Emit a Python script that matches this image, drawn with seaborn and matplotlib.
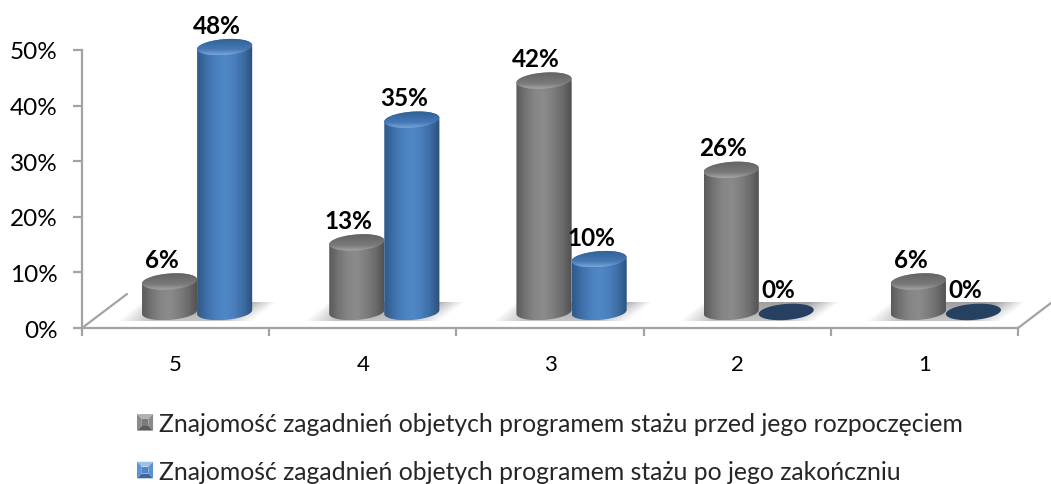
import numpy as np
import pandas as pd
import seaborn as sns
from matplotlib import pyplot as plt
from matplotlib.colors import LinearSegmentedColormap
from matplotlib.legend_handler import HandlerBase
from matplotlib.patches import Patch, PathPatch, Polygon
from matplotlib.path import Path

categories = ['5', '4', '3', '2', '1']
before_values = [6, 13, 42, 26, 6]
after_values = [48, 35, 10, 0, 0]
before_label = 'Znajomość zagadnień objetych programem stażu przed jego rozpoczęciem'
after_label = 'Znajomość zagadnień objetych programem stażu po jego zakończniu'
y_ticks = [0, 10, 20, 30, 40, 50]

W, H = 1051, 485
AXIS_COLOR = '#a3a3a3'
PX_X = 1 / 187.2   # category units per pixel
PX_Y = 1 / 5.58    # percent per pixel

BODY = {
    before_label: ['#5a5a5a', '#747474', '#868686', '#8b8b8b', '#7e7e7e', '#6c6c6c', '#505050'],
    after_label: ['#2f5988', '#3f6fa8', '#4a80bf', '#5088c6', '#4a7fbc', '#3c6ca4', '#2a5078'],
}
CAP = {
    before_label: ['#626262', '#6e6e6e', '#7a7a7a', '#a5a5a5'],
    after_label: ['#30608f', '#3a6ca6', '#4679b5', '#77a6da'],
}
FLAT = {before_label: '#7f7f7f', after_label: '#4f81bd'}
ZERO_COLOR = '#254061'
SWATCH = {
    before_label: ['#b0b0b0', '#8a8a8a', '#5c5c5c', '#555555', '#7a7a7a'],
    after_label: ['#9cc2ec', '#5f93cf', '#38689f', '#2f5c90', '#4f86c6'],
}


def ax_rect(left, top, right, bottom):
    return [left / W, 1 - bottom / H, (right - left) / W, (bottom - top) / H]


def cylinder_outline(x0, x1, y0, y1):
    # lower half of the base ellipse + upper half of the top ellipse
    a = (x1 - x0) / 2
    cx = x0 + a
    b = 8 * PX_Y
    s = 2 * PX_Y
    t = np.linspace(np.pi, 2 * np.pi, 50)
    low = np.c_[cx + a * np.cos(t), y0 + b * np.sin(t) + s * np.cos(t)]
    t = np.linspace(0, np.pi, 50)
    up = np.c_[cx + a * np.cos(t), y1 + b * np.sin(t) + s * np.cos(t)]
    return np.r_[low, up]


def cap_outline(x0, x1, y):
    a = (x1 - x0) / 2
    t = np.linspace(0, 2 * np.pi, 100)
    return np.c_[x0 + a + a * np.cos(t),
                 y + 8 * PX_Y * np.sin(t) + 2 * PX_Y * np.cos(t)]


def gradient(ax, pts, colors, z, vertical=False):
    clip = PathPatch(Path(pts), facecolor='none', edgecolor='none', zorder=z)
    ax.add_patch(clip)
    cmap = LinearSegmentedColormap.from_list('g', colors)
    ramp = np.linspace(0, 1, 128)
    grad = ramp.reshape(-1, 1) if vertical else ramp.reshape(1, -1)
    im = ax.imshow(grad, cmap=cmap, aspect='auto', zorder=z, origin='upper',
                   extent=[pts[:, 0].min(), pts[:, 0].max(), pts[:, 1].min(), pts[:, 1].max()])
    im.set_clip_path(clip)


def floor_shadow(ax, center, y_floor):
    lo, hi = y_floor - 9 * PX_Y, y_floor + 10 * PX_Y
    half = 80 * PX_X
    skew = 24 * PX_X
    xx = np.linspace(center - half, center + half, 200)
    yy = np.linspace(1, 0, 40)     # 1 at the top row
    shift = (yy - 0.5)[:, None] * skew
    u = np.abs(xx[None, :] - center - shift) / (half - skew / 2)
    alpha = np.clip((1 - u) * 2.2, 0, 1) * (0.6 + 0.4 * yy)[:, None]
    rgba = np.zeros((40, 200, 4))
    rgba[..., :3] = 0.62
    rgba[..., 3] = alpha
    ax.imshow(rgba, aspect='auto', zorder=1, extent=[center - half, center + half, lo, hi])


class BevelHandler(HandlerBase):
    def create_artists(self, legend, orig, xd, yd, w, h, fontsize, trans):
        c = SWATCH[orig.get_label()]
        x0, y0 = -xd, -yd
        x1, y1 = x0 + w, y0 + h
        m = 0.3 * w
        inner = [(x0 + m, y0 + m), (x1 - m, y0 + m), (x1 - m, y1 - m), (x0 + m, y1 - m)]
        outer = [(x0, y0), (x1, y0), (x1, y1), (x0, y1)]
        order = [(3, 2, c[0]), (2, 1, c[1]), (0, 1, c[2]), (3, 0, c[1])]
        out = []
        for i, j, col in order:
            out.append(Polygon([outer[i], outer[j], inner[j], inner[i]], facecolor=col,
                               edgecolor='none', transform=trans))
        out.append(Polygon(inner, facecolor=c[4], edgecolor='none', transform=trans))
        return out


sns.set_style('white')
plt.rcParams['font.family'] = ['Lato', 'DejaVu Sans']

fig = plt.figure(figsize=(W / 100, H / 100), dpi=100)

# axis frame
ax = fig.add_axes(ax_rect(82, 51, 1018, 329))
ax.set_xlim(-0.5, len(categories) - 0.5)
ax.set_ylim(0, 50)
sns.despine(ax=ax)
for side in ['left', 'bottom']:
    ax.spines[side].set_color(AXIS_COLOR)
    ax.spines[side].set_linewidth(1.6)
ax.set_yticks(y_ticks)
ax.set_yticklabels([f'{v}%' for v in y_ticks], fontsize=17.5, color='black')
ax.set_xticks(np.arange(len(categories) + 1) - 0.5)
ax.set_xticklabels([])
ax.set_xticks(range(len(categories)), categories, minor=True, fontsize=16, color='black')
ax.tick_params(axis='y', left=True, length=6.5, width=1.6, color=AXIS_COLOR, pad=11)
ax.tick_params(axis='x', which='major', bottom=True, length=6, width=1.6, color=AXIS_COLOR)
ax.tick_params(axis='x', which='minor', bottom=False, length=0, pad=19)
ax.plot([0, 45 / 936], [0, 34 / 278], transform=ax.transAxes, color=AXIS_COLOR, lw=1.6, clip_on=False)
ax.plot([1, 1 + 33 / 936], [0, 25 / 278], transform=ax.transAxes, color=AXIS_COLOR, lw=1.6, clip_on=False)

# bars sit on the floor of the box, shifted back from the axis frame
bar_ax = fig.add_axes(ax_rect(103.5, 0, 1039.5, 330))
bar_ax.patch.set_alpha(0)

df = pd.DataFrame({
    'grade': categories * 2,
    'value': before_values + after_values,
    'series': [before_label] * len(categories) + [after_label] * len(categories),
})
sns.barplot(data=df, x='grade', y='value', hue='series', order=categories,
            hue_order=[before_label, after_label], width=0.588, gap=0,
            palette=FLAT, saturation=1, legend=False, ax=bar_ax)

y_floor = 0.55
for i in range(len(categories)):
    floor_shadow(bar_ax, i, y_floor)

for series, bars in zip([before_label, after_label], bar_ax.containers):
    z = 3 if series == before_label else 4
    for bar in bars:
        x0, x1 = bar.get_x(), bar.get_x() + bar.get_width()
        h = bar.get_height()
        top = max(h, y_floor)
        center = (x0 + x1) / 2
        if h > 0:
            pts = cylinder_outline(x0, x1, y_floor, top)
            clip = PathPatch(Path(pts), facecolor='none', edgecolor='none')
            bar_ax.add_patch(clip)
            bar.set_clip_path(clip)
            gradient(bar_ax, pts, BODY[series], z)
            gradient(bar_ax, cap_outline(x0, x1, top), CAP[series], z + 0.1, vertical=True)
        else:
            bar.set_visible(False)
            bar_ax.add_patch(Polygon(cap_outline(x0, x1, top), facecolor=ZERO_COLOR,
                                     edgecolor='none', zorder=z))
        bar_ax.annotate(f'{h:.0f}%', xy=(center, top), xytext=(-8 * 0.72, 22 * 0.72),
                        textcoords='offset points', ha='center', va='center',
                        fontsize=17.5, fontweight='bold', color='black', zorder=6,
                        annotation_clip=False)

bar_ax.set_xlim(-0.5, len(categories) - 0.5)
bar_ax.set_ylim(-14 * PX_Y, 316 * PX_Y)
bar_ax.axis('off')

handles = [Patch(label=before_label), Patch(label=after_label)]
fig.legend(handles=handles, labels=[before_label, after_label], frameon=False,
           loc='upper left', bbox_to_anchor=(137 / W, 1 - 413 / H), fontsize=17.8,
           handler_map={Patch: BevelHandler()}, handlelength=0.65, handleheight=0.65,
           handletextpad=0.22, labelspacing=1.0, borderpad=0, borderaxespad=0)

fig.savefig('out.png', dpi=100)
